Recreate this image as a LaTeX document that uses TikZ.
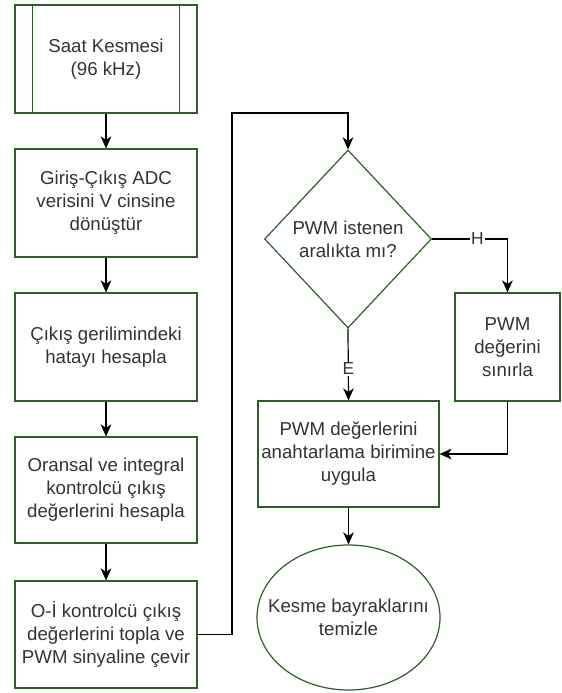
\documentclass[tikz,border=0pt]{standalone}
\usepackage{fontspec}
\setmainfont{Liberation Sans}
\usetikzlibrary{shapes.geometric,arrows.meta}
\definecolor{bord}{RGB}{45,95,40}
\definecolor{txt}{RGB}{51,51,51}
\tikzset{
  every node/.style={font=\fontsize{14pt}{17.25pt}\selectfont, text=txt, align=center},
  box/.style={draw=bord, line width=0.9pt, rectangle, inner sep=0pt, minimum width=182*0.75pt, minimum height=108*0.75pt},
  dec/.style={draw=bord, line width=0.9pt, diamond, inner sep=0pt, aspect=0.94, minimum width=167*0.75pt, minimum height=178*0.75pt},
  term/.style={draw=bord, line width=0.9pt, ellipse, inner sep=0pt, minimum width=183*0.75pt, minimum height=145*0.75pt},
  conn/.style={draw=black, line width=0.9pt, -{Stealth[length=9pt,width=8pt,inset=2.6pt]}},
  lab/.style={fill=white, inner sep=1pt, font=\fontsize{13pt}{15pt}\selectfont}
}
\begin{document}
\begin{tikzpicture}[x=0.75pt,y=-0.75pt]
\useasboundingbox (0,0) rectangle (561,693);
\node[box] (b1) at (106,59) {Saat Kesmesi\\(96 kHz)};
\draw[draw=bord, line width=0.9pt] ([xshift=18*0.75pt]b1.north west) -- ([xshift=18*0.75pt]b1.south west);
\draw[draw=bord, line width=0.9pt] ([xshift=-18*0.75pt]b1.north east) -- ([xshift=-18*0.75pt]b1.south east);
\node[box] (b2) at (106,203) {Giriş-Çıkış ADC\\verisini V cinsine\\dönüştür};
\node[box] (b3) at (106,347) {Çıkış gerilimindeki\\hatayı hesapla};
\node[box, minimum height=106*0.75pt] (b4) at (106,490) {Oransal ve integral\\kontrolcü çıkış\\değerlerini hesapla};
\node[box, minimum height=107*0.75pt] (b5) at (106,634.5) {O-İ kontrolcü çıkış\\değerlerini topla ve\\PWM sinyaline çevir};
\node[dec] (dia) at (348,239) {PWM istenen\\aralıkta mı?};
\node[box, minimum width=105*0.75pt] (lim) at (507.5,347) {PWM\\değerini\\sınırla};
\node[box, minimum width=181*0.75pt, minimum height=106*0.75pt] (app) at (348.5,454) {PWM değerlerini\\anahtarlama birimine\\uygula};
\node[term] (ell) at (348.5,617.5) {};
\node (elltext) at (ell.center) {Kesme bayraklarını\\temizle};
\coordinate (c1) at (232,113);
\draw[conn] (b1) -- (b2);
\draw[conn] (b2) -- (b3);
\draw[conn] (b3) -- (b4);
\draw[conn] (b4) -- (b5);
\draw[conn] (b5.east) -| (c1) -| (dia.north);
\draw[conn] (dia.east) -| node[lab, pos=0.3] {H} (lim.north);
\draw[conn] (dia.south) -- node[lab, pos=0.56] {E} (app.north);
\draw[conn] (lim.south) |- (app.east);
\draw[conn] (app.south) -- (ell.north);
\end{tikzpicture}
\end{document}
